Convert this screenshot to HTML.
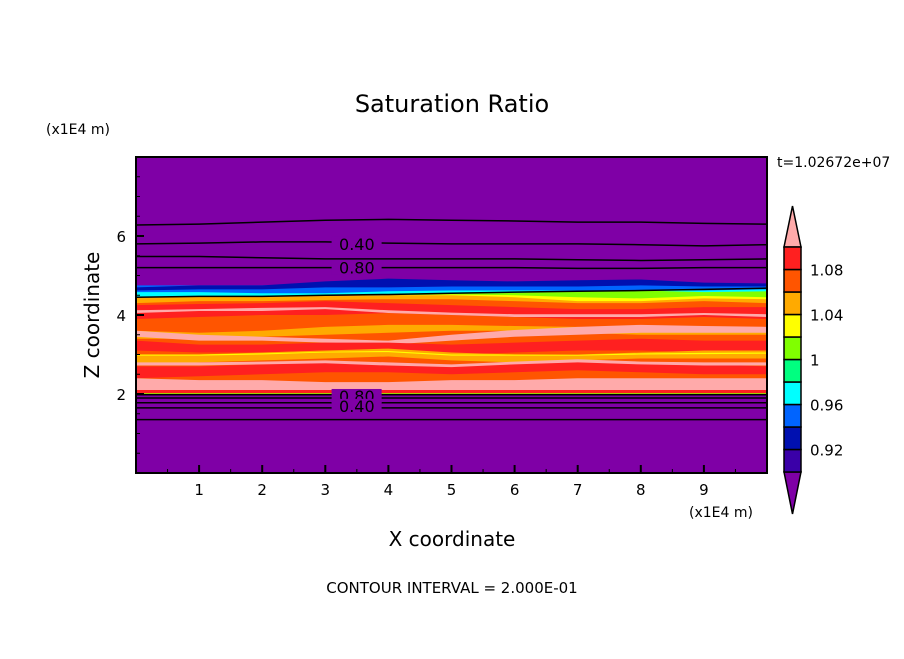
<!DOCTYPE html>
<html><head><meta charset="utf-8"><style>
body{margin:0;background:#fff;}
svg text{font-family:"DejaVu Sans","Liberation Sans",sans-serif;fill:#000;}
</style></head><body>
<svg id="c" width="904" height="654" viewBox="0 0 904 654">
<text x="452" y="112" font-size="24" text-anchor="middle">Saturation Ratio</text>
<text x="46" y="134" font-size="14">(x1E4 m)</text>
<text x="777" y="167" font-size="14">t=1.02672e+07</text>
<text x="689" y="517" font-size="14">(x1E4 m)</text>
<text x="452" y="546" font-size="20" text-anchor="middle">X coordinate</text>
<text x="99" y="315" font-size="20" text-anchor="middle" transform="rotate(-90 99 315)">Z coordinate</text>
<text x="452" y="593" font-size="15" text-anchor="middle">CONTOUR INTERVAL = 2.000E-01</text>
<g id="plot"></g>
<g id="cbar"></g>
</svg>
<script>
// data
const xTicks=[1,2,3,4,5,6,7,8,9];
const zTicks=[2,4,6];
const levels=[0.92,0.96,1,1.04,1.08];
const levelColors=["#3a00a8","#0010b0","#0064ff","#00ffff","#00ff80","#80ff00","#ffff00","#ffaa00","#ff5500","#ff2020"];
const xs=[0,1,2,3,4,5,6,7,8,9,10];
// stripes: [color, bottom z at xs, top z at xs]
const stripes=[
 ["#0064ff",[4.5,4.5,4.5,4.5,4.55,4.6,4.6,4.6,4.6,4.6,4.6],[4.75,4.75,4.75,4.8,4.9,4.85,4.8,4.85,4.85,4.8,4.78]],
 ["#0010b0",[4.62,4.65,4.65,4.7,4.7,4.72,4.72,4.72,4.75,4.72,4.72],[4.7,4.75,4.75,4.85,4.92,4.88,4.85,4.88,4.9,4.82,4.8]],
 ["#00ffff",[4.45,4.48,4.48,4.5,4.5,4.52,4.55,4.55,4.55,4.55,4.55],[4.58,4.58,4.55,4.55,4.6,4.62,4.62,4.62,4.62,4.62,4.65]],
 ["#ff5500",[2.0,2.0,2.0,2.0,2.0,2.0,2.0,2.0,2.0,2.0,2.0],[4.45,4.47,4.47,4.48,4.5,4.52,4.55,4.55,4.55,4.55,4.55]],
 ["#ffaa00",[4.3,4.35,4.35,4.38,4.4,4.4,4.35,4.3,4.3,4.35,4.3],[4.45,4.47,4.47,4.48,4.5,4.52,4.55,4.55,4.55,4.55,4.55]],
 ["#ffff00",[4.5,4.5,4.5,4.5,4.5,4.5,4.45,4.35,4.35,4.42,4.4],[4.5,4.5,4.5,4.5,4.5,4.52,4.55,4.55,4.55,4.55,4.55]],
 ["#80ff00",[4.5,4.5,4.5,4.5,4.5,4.52,4.5,4.45,4.42,4.48,4.45],[4.5,4.5,4.5,4.5,4.5,4.54,4.56,4.6,4.62,4.58,4.6]],
 ["#ff2020",[3.9,3.95,4.0,4.0,4.05,4.0,3.95,3.9,3.9,3.95,3.9],[4.25,4.28,4.3,4.35,4.3,4.25,4.2,4.15,4.15,4.2,4.2]],
 ["#ffaaaa",[4.05,4.1,4.1,4.15,4.05,4.0,3.95,3.95,3.95,4.0,3.95],[4.12,4.15,4.18,4.2,4.12,4.06,4.02,4.02,4.02,4.05,4.02]],
 ["#ffaa00",[3.4,3.4,3.45,3.5,3.55,3.6,3.6,3.55,3.5,3.5,3.5],[3.6,3.55,3.6,3.7,3.75,3.75,3.72,3.7,3.65,3.62,3.6]],
 ["#ffaaaa",[3.45,3.35,3.35,3.3,3.25,3.35,3.45,3.5,3.55,3.55,3.55],[3.6,3.5,3.45,3.4,3.35,3.5,3.62,3.7,3.75,3.72,3.7]],
 ["#ff2020",[3.1,3.05,3.05,3.1,3.1,3.0,3.05,3.1,3.1,3.05,3.1],[3.35,3.25,3.25,3.3,3.3,3.25,3.3,3.35,3.4,3.35,3.35]],
 ["#ffaa00",[2.75,2.8,2.85,2.9,2.95,2.85,2.8,2.85,2.9,2.9,2.9],[3.0,3.0,3.05,3.1,3.15,3.05,3.0,3.0,3.05,3.1,3.1]],
 ["#ffff00",[2.97,2.97,3.0,3.05,3.06,2.97,2.97,2.97,3.0,3.01,3.02],[3.0,3.0,3.03,3.07,3.09,3.0,3.0,2.99,3.03,3.04,3.05]],
 ["#ff2020",[2.4,2.45,2.5,2.55,2.55,2.5,2.55,2.6,2.55,2.5,2.5],[2.7,2.7,2.75,2.8,2.8,2.75,2.8,2.85,2.8,2.75,2.7]],
 ["#ffaaaa",[2.72,2.72,2.75,2.78,2.72,2.68,2.75,2.8,2.75,2.72,2.72],[2.8,2.8,2.82,2.85,2.8,2.75,2.82,2.88,2.82,2.8,2.8]],
 ["#ffaaaa",[2.1,2.1,2.1,2.1,2.1,2.1,2.1,2.1,2.1,2.1,2.1],[2.4,2.35,2.35,2.3,2.3,2.35,2.35,2.4,2.4,2.4,2.4]],
 ["#ff2020",[2.02,2.02,2.02,2.02,2.02,2.02,2.02,2.02,2.02,2.02,2.02],[2.1,2.1,2.1,2.1,2.1,2.1,2.1,2.1,2.1,2.1,2.1]],
 ["#80ff00",[1.98,1.98,1.98,1.98,1.98,1.98,1.98,1.98,1.98,1.98,1.98],[2.02,2.02,2.02,2.02,2.02,2.02,2.02,2.02,2.02,2.02,2.02]]
];
// contour lines: z values at xs
const contours=[
 [6.28,6.3,6.35,6.4,6.42,6.4,6.38,6.35,6.35,6.32,6.3],
 [5.8,5.82,5.85,5.85,5.82,5.8,5.8,5.8,5.78,5.75,5.78],
 [5.48,5.48,5.45,5.42,5.42,5.42,5.42,5.4,5.38,5.4,5.42],
 [5.2,5.2,5.2,5.2,5.2,5.2,5.2,5.18,5.18,5.2,5.2],
 [4.45,4.47,4.47,4.5,4.52,4.55,4.58,4.6,4.62,4.65,4.68],
 [1.98,1.98,1.98,1.98,1.98,1.98,1.98,1.98,1.98,1.98,1.98],
 [1.9,1.9,1.9,1.9,1.9,1.9,1.9,1.9,1.9,1.9,1.9],
 [1.78,1.78,1.78,1.78,1.78,1.78,1.78,1.78,1.78,1.78,1.78],
 [1.65,1.65,1.65,1.65,1.65,1.65,1.65,1.65,1.65,1.65,1.65],
 [1.35,1.35,1.35,1.35,1.35,1.35,1.35,1.35,1.35,1.35,1.35]
];
const contourLabels=[["0.40",5.8],["0.80",5.2],["0.80",1.95],["0.40",1.7]];
</script>
<script>
const NS="http://www.w3.org/2000/svg";
const X0=136,X1=767,Y0=473,Y1=157;
const sx=v=>X0+v*(X1-X0)/10, sz=v=>Y0-v*(Y0-Y1)/8;
function mk(t,a,p){const e=document.createElementNS(NS,t);for(const k in a)e.setAttribute(k,a[k]);p.appendChild(e);return e;}
const plot=document.getElementById('plot');
let bg=mk('rect',{x:X0,y:Y1,width:X1-X0,height:Y0-Y1,fill:"#7f00a6"},plot);


stripes.forEach((s,i)=>{
 let pts=xs.map((x,j)=>sx(x)+","+sz(s[2][j])).concat(xs.slice().reverse().map((x,j)=>sx(x)+","+sz(s[1][xs.length-1-j])));
 const p=mk('polygon',{points:pts.join(" "),fill:s[0]},plot);
 
 
});
contours.forEach(c=>{
 const p=mk('polyline',{points:xs.map((x,j)=>sx(x)+","+sz(c[j])).join(" "),fill:"none",stroke:"#000","stroke-width":1.5},plot);
 
 
});
contourLabels.forEach(l=>{
 const r=mk('rect',{x:sx(3.1),y:sz(l[1])-7,width:50,height:14,fill:"#7f00a6"},plot);
 
 
 const t=mk('text',{x:sx(3.5),y:sz(l[1])+6,"font-size":16,"text-anchor":"middle"},plot);
 t.textContent=l[0];
 
 
});
mk('rect',{x:X0,y:Y1,width:X1-X0,height:Y0-Y1,fill:"none",stroke:"#000","stroke-width":2},plot);
xTicks.forEach(v=>{
 mk('line',{x1:sx(v),x2:sx(v),y1:Y0,y2:Y0-8,stroke:"#000","stroke-width":2},plot);
 const t=mk('text',{x:sx(v),y:Y0+22,"font-size":15,"text-anchor":"middle"},plot);t.textContent=v;
 
 
});
for(let v=0.5;v<10;v+=0.5)mk('line',{x1:sx(v),x2:sx(v),y1:Y0,y2:Y0-4,stroke:"#000"},plot);
for(let v=0.5;v<8;v+=0.5)mk('line',{x1:X0,x2:X0+(v%2==0?8:4),y1:sz(v),y2:sz(v),stroke:"#000","stroke-width":v%2==0?2:1},plot);
zTicks.forEach(v=>{
 const t=mk('text',{x:X0-10,y:sz(v)+6,"font-size":15,"text-anchor":"end"},plot);t.textContent=v;
 
 
});
// colorbar
const cb=document.getElementById('cbar');
const CX=784,CW=17,CT=247,CB=472,h=(CB-CT)/levelColors.length;
mk('polygon',{points:`${CX},${CT} ${CX+CW/2},206 ${CX+CW},${CT}`,fill:"#ffaaaa",stroke:"#000","stroke-width":1.5},cb);
mk('polygon',{points:`${CX},${CB} ${CX+CW/2},514 ${CX+CW},${CB}`,fill:"#7f00a6",stroke:"#000","stroke-width":1.5},cb);
levelColors.forEach((c,i)=>{
 const r=mk('rect',{x:CX,y:CB-(i+1)*h,width:CW,height:h,fill:c,stroke:"#000","stroke-width":1.5},cb);
 
 
});
levels.forEach((v,i)=>{
 const t=mk('text',{x:810,y:CB-(2*i+1)*h+6,"font-size":15},cb);t.textContent=v;
 
 
});
</script>
</body></html>
